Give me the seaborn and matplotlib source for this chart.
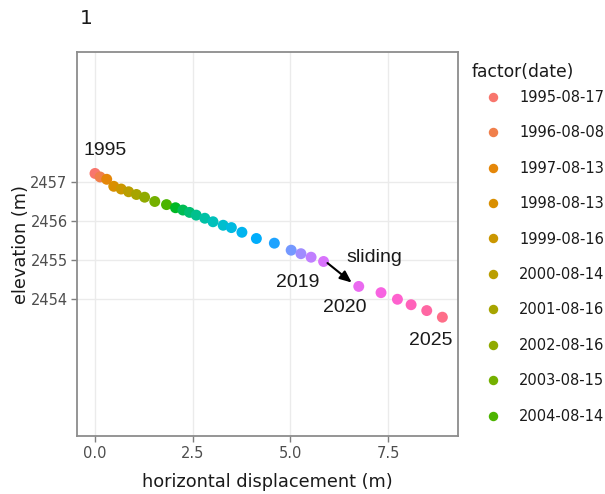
import matplotlib
matplotlib.use("Agg")
import matplotlib.pyplot as plt
from matplotlib.lines import Line2D
import seaborn as sns
import pandas as pd
from seaborn.external import husl

# ---- data ----
years = list(range(1995, 2026))
displacement = [0.00, 0.13, 0.30, 0.48, 0.67, 0.86, 1.06, 1.27, 1.53, 1.83,
                2.06, 2.25, 2.42, 2.59, 2.81, 3.02, 3.28, 3.49, 3.76, 4.13,
                4.59, 5.02, 5.27, 5.53, 5.85, 6.75, 7.32, 7.74, 8.09, 8.49, 8.89]
elevation = [2457.23, 2457.14, 2457.08, 2456.90, 2456.83, 2456.76, 2456.69, 2456.62,
             2456.51, 2456.43, 2456.35, 2456.29, 2456.23, 2456.16, 2456.08, 2455.99,
             2455.90, 2455.84, 2455.72, 2455.56, 2455.44, 2455.26, 2455.17, 2455.08,
             2454.97, 2454.33, 2454.17, 2454.00, 2453.86, 2453.71, 2453.54]
legend_dates = ["1995-08-17", "1996-08-08", "1997-08-13", "1998-08-13", "1999-08-16",
                "2000-08-14", "2001-08-16", "2002-08-16", "2003-08-15", "2004-08-14"]
x_ticks = [0.0, 2.5, 5.0, 7.5]
x_ticklabels = ["0.0", "2.5", "5.0", "7.5"]
y_ticks = [2454, 2455, 2456, 2457]
y_ticklabels = ["2454", "2455", "2456", "2457"]
label_years = [1995, 2019, 2020, 2025]
label_text = ["1995", "2019", "2020", "2025"]
label_dx = [0.26, -0.67, -0.36, -0.31]
label_dy = [0.60, -0.55, -0.53, -0.59]

# ggplot-style hue palette (HCL, l=65, c=100)
n = len(years)
hues = [15 + 360 * i / n for i in range(n)]
def hcl(h, c=100, l=65):
    r, g, b = husl.lch_to_rgb(l, c, h % 360)
    return tuple(min(max(v, 0), 1) for v in (r, g, b))
colors = [hcl(h) for h in hues]

df = pd.DataFrame({"disp": displacement, "elev": elevation,
                   "year": [str(y) for y in years]})

W, H = 605, 494
fig = plt.figure(figsize=(W / 100, H / 100), dpi=100)
L, R, T, B = 77.3, 458, 52.3, 436
ax = fig.add_axes([L / W, 1 - B / H, (R - L) / W, (B - T) / H])

sns.scatterplot(data=df, x="disp", y="elev", hue="year",
                palette=dict(zip(df["year"], colors)),
                s=62, linewidth=0, legend=False, ax=ax, zorder=3)

ax.set_xlim(-0.453, 9.29)
ax.set_ylim(2450.49, 2460.34)
ax.set_xticks(x_ticks)
ax.set_xticklabels(x_ticklabels)
ax.set_yticks(y_ticks)
ax.set_yticklabels(y_ticklabels)
ax.grid(True, color="#ebebeb", linewidth=1.0, zorder=0)
ax.set_axisbelow(True)
for sp in ax.spines.values():
    sp.set_color("#8c8c8c")
    sp.set_linewidth(1.3)
ax.tick_params(axis="both", direction="out", length=4, width=1, color="#7f7f7f",
               labelcolor="#4d4d4d", labelsize=10.5, pad=3)
ax.set_xlabel("horizontal displacement (m)", fontsize=12.8, color="#1a1a1a", labelpad=8.5)
ax.set_ylabel("elevation (m)", fontsize=12.8, color="#1a1a1a", labelpad=0)

# year labels
for yr, txt, dx, dy in zip(label_years, label_text, label_dx, label_dy):
    i = years.index(yr)
    ax.text(displacement[i] + dx, elevation[i] + dy, txt, ha="center", va="center",
            fontsize=14, family="Liberation Sans", color="#1a1a1a")

# sliding annotation
i19, i20 = years.index(2019), years.index(2020)
ax.annotate("", xy=(displacement[i20] - 0.18, elevation[i20] + 0.10),
            xytext=(displacement[i19] + 0.10, elevation[i19] - 0.04),
            arrowprops=dict(arrowstyle="-|>,head_length=0.7,head_width=0.3",
                            color="black", lw=1.5, shrinkA=0, shrinkB=0))
ax.text(displacement[i20] + 0.39, elevation[i20] + 0.74, "sliding", ha="center",
        va="center", fontsize=14, family="Liberation Sans", color="#1a1a1a")

# title
fig.text(80 / W, 1 - 18.5 / H, "1", fontsize=14.5, ha="left", va="center", color="#1a1a1a")

# legend (first 10 entries visible)
fig.text(471.7 / W, 1 - 71.7 / H, "factor(date)", fontsize=12.3, ha="left",
         va="center", color="#1a1a1a")
handles = [Line2D([0], [0], marker="o", linestyle="", markersize=6.8,
                  markerfacecolor=colors[k], markeredgewidth=0)
           for k in range(len(legend_dates))]
leg = fig.legend(handles, legend_dates, loc="upper left",
                 bbox_to_anchor=(475.2 / W, 1 - 84.1 / H), frameon=False,
                 fontsize=10.5, labelspacing=1.40,
                 handletextpad=1.0, handlelength=1.6, borderaxespad=0)
for t in leg.get_texts():
    t.set_color("#1a1a1a")

fig.savefig("out.png", dpi=100)
